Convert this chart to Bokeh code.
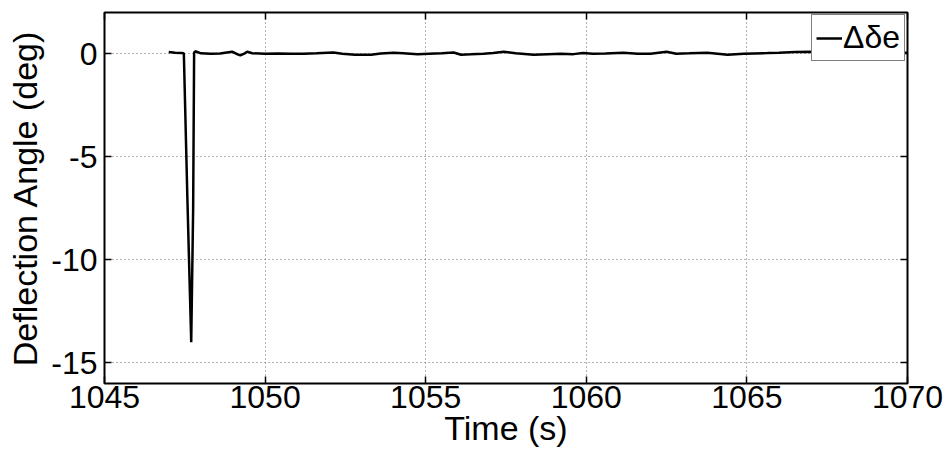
from bokeh.plotting import figure
from bokeh.models import LinearAxis, Range1d, FixedTicker, Legend, LegendItem
from bokeh.embed import file_html
from bokeh.resources import INLINE

time_s = [1047.0, 1047.2, 1047.4, 1047.47, 1047.58, 1047.70, 1047.76, 1047.79, 1047.83,
          1048.0, 1048.3, 1048.6, 1048.97, 1049.1, 1049.23, 1049.35, 1049.44, 1049.6,
          1050.0, 1050.4, 1050.8, 1051.2, 1051.6, 1052.13, 1052.4, 1052.8, 1053.3,
          1053.6, 1054.0, 1054.3, 1054.75, 1055.1, 1055.5, 1055.87, 1056.1, 1056.4,
          1056.8, 1057.1, 1057.43, 1057.8, 1058.36, 1058.8, 1059.2, 1059.6, 1059.9,
          1060.2, 1060.6, 1061.16, 1061.6, 1062.0, 1062.5, 1062.8, 1063.2, 1063.77,
          1064.4, 1064.9, 1065.64, 1066.0, 1066.5, 1067.0, 1067.5, 1068.0, 1068.5,
          1069.0, 1069.5, 1070.0]
delta_de = [0.08, 0.05, 0.03, 0.02, -7.0, -14.0, -7.5, 0.05, 0.12,
            0.02, 0.0, 0.01, 0.1, 0.0, -0.08, 0.0, 0.1, 0.02,
            0.0, 0.01, 0.0, 0.0, 0.02, 0.06, 0.0, -0.05, -0.05,
            0.01, 0.05, 0.02, -0.03, 0.0, 0.02, 0.06, -0.05, -0.03,
            0.0, 0.03, 0.1, 0.02, -0.05, -0.02, 0.0, -0.02, 0.04,
            0.0, 0.01, 0.05, 0.0, 0.0, 0.1, 0.0, 0.02, 0.05,
            -0.05, 0.0, 0.03, 0.05, 0.08, 0.1, 0.08, 0.05, 0.05,
            0.05, 0.05, 0.05]
x_ticks = [1045, 1050, 1055, 1060, 1065, 1070]
y_ticks = [0, -5, -10, -15]
series_label = "Δδe"

FONT = "Liberation Sans"
TICK_FS = "32px"
LABEL_FS = "34px"

p = figure(frame_width=803, frame_height=371, output_backend="svg", toolbar_location=None,
           x_range=Range1d(1045, 1070), y_range=Range1d(-16, 2),
           min_border_left=104, min_border_right=40, min_border_top=12, min_border_bottom=60)
p.outline_line_color = "black"
p.outline_line_width = 2
p.background_fill_color = "white"

r = p.line(time_s, delta_de, line_color="black", line_width=2.5)

for ax in (p.xaxis[0], p.yaxis[0]):
    ax.major_label_text_font = FONT
    ax.major_label_text_font_size = TICK_FS
    ax.major_label_text_color = "black"
    ax.axis_label_text_font = FONT
    ax.axis_label_text_font_size = LABEL_FS
    ax.axis_label_text_font_style = "normal"
    ax.axis_label_text_color = "black"
    ax.major_tick_in = 7
    ax.major_tick_out = 0
    ax.minor_tick_line_color = None
    ax.axis_line_color = None
    ax.major_tick_line_color = "black"
    ax.major_tick_line_width = 1.5

p.xaxis[0].ticker = FixedTicker(ticks=x_ticks)
p.yaxis[0].ticker = FixedTicker(ticks=y_ticks)
p.yaxis[0].major_label_overrides = {v: str(v) for v in y_ticks}
p.xaxis[0].axis_label = "Time (s)"
p.yaxis[0].axis_label = "Deflection Angle (deg)"
p.xaxis[0].major_label_standoff = 2
p.xaxis[0].axis_label_standoff = -2
p.yaxis[0].major_label_standoff = 7
p.yaxis[0].axis_label_standoff = 4

top_ax = LinearAxis(ticker=FixedTicker(ticks=x_ticks), major_label_text_font_size="0px",
                    major_tick_in=7, major_tick_out=0, minor_tick_line_color=None,
                    axis_line_color=None, major_tick_line_width=1.5, major_label_standoff=0)
right_ax = LinearAxis(ticker=FixedTicker(ticks=y_ticks), major_label_text_font_size="0px",
                      major_tick_in=7, major_tick_out=0, minor_tick_line_color=None,
                      axis_line_color=None, major_tick_line_width=1.5, major_label_standoff=0)
p.add_layout(top_ax, "above")
p.add_layout(right_ax, "right")

p.xgrid.ticker = FixedTicker(ticks=x_ticks)
p.ygrid.ticker = FixedTicker(ticks=y_ticks)
for g in (p.xgrid, p.ygrid):
    g.grid_line_color = "#666666"
    g.grid_line_dash = "1 3"
    g.grid_line_width = 1

legend = Legend(items=[LegendItem(label=series_label, renderers=[r])], location="top_right")
legend.label_text_font = FONT
legend.label_text_font_size = TICK_FS
legend.label_text_color = "black"
legend.border_line_color = "black"
legend.border_line_width = 1.5
legend.margin = 2
legend.padding = 4
legend.spacing = 0
legend.glyph_width = 26
legend.label_standoff = 1
legend.background_fill_alpha = 1
p.add_layout(legend)

open("out.html", "w").write(file_html(p, INLINE))
